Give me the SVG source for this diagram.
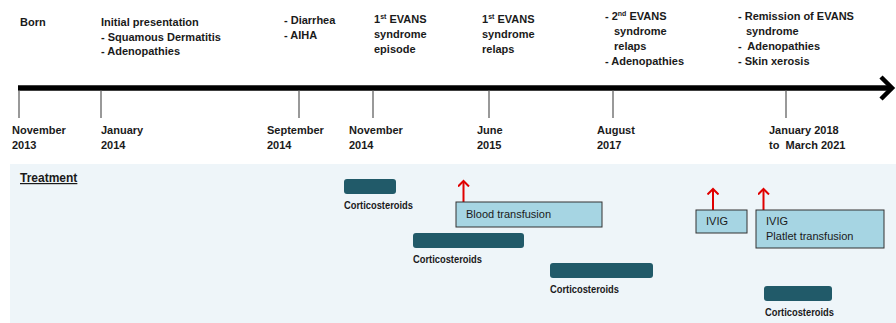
<svg xmlns="http://www.w3.org/2000/svg" width="896" height="323" viewBox="0 0 896 323">
<defs>
<style>
.t{font-family:"Liberation Sans",Arial,sans-serif;font-size:11px;font-weight:bold;fill:#1a1a1a;white-space:pre}
.r{font-family:"Liberation Sans",Arial,sans-serif;font-size:11px;fill:#1a1a1a}
.c{font-family:"Liberation Sans",Arial,sans-serif;font-size:10px;font-weight:bold;fill:#1a1a1a}
.sup{font-size:7px}
.tick{stroke:#555;stroke-width:1.2}
.bar{fill:#215A69}
.box{fill:#A6D5E3;stroke:#333;stroke-width:1}
.red{stroke:#E00000;stroke-width:2;fill:none}
</style>
<marker id="ra" markerWidth="12" markerHeight="12" refX="6" refY="6" orient="auto" markerUnits="userSpaceOnUse">
<path d="M0.5,0.5 L6,6 L0.5,11.5" fill="none" stroke="#E00000" stroke-width="2"/>
</marker>
</defs>
<rect width="896" height="323" fill="#ffffff"/>
<rect id="treatment-bg" x="10" y="164" width="886" height="159" fill="#EEF5F9"/>

<g id="connectors">
<line x1="18" y1="88" x2="890" y2="88" stroke="#000" stroke-width="5.5"/>
<polyline points="881,77 892,88 881,99" fill="none" stroke="#000" stroke-width="4.5"/>
<line class="tick" x1="19" y1="90" x2="19" y2="118"/>
<line class="tick" x1="101" y1="90" x2="101" y2="118"/>
<line class="tick" x1="299" y1="90" x2="299" y2="118"/>
<line class="tick" x1="373" y1="90" x2="373" y2="118"/>
<line class="tick" x1="489" y1="90" x2="489" y2="118"/>
<line class="tick" x1="613" y1="90" x2="613" y2="118"/>
<line class="tick" x1="786" y1="90" x2="786" y2="118"/>
<line class="red" x1="463.5" y1="202" x2="463.5" y2="181" marker-end="url(#ra)"/>
<line class="red" x1="713" y1="210" x2="713" y2="189" marker-end="url(#ra)"/>
<line class="red" x1="763.5" y1="210" x2="763.5" y2="189" marker-end="url(#ra)"/>
</g>

<g id="ev-born"><text class="t" x="20" y="26">Born</text></g>
<g id="ev-initial">
<text class="t" x="101" y="26">Initial presentation</text>
<text class="t" x="101" y="41">- Squamous Dermatitis</text>
<text class="t" x="101" y="55">- Adenopathies</text>
</g>
<g id="ev-diarrhea">
<text class="t" x="284" y="24">- Diarrhea</text>
<text class="t" x="284" y="39">- AIHA</text>
</g>
<g id="ev-evans1">
<text class="t" x="374" y="23">1<tspan class="sup" dy="-4">st</tspan><tspan dy="4"> EVANS</tspan></text>
<text class="t" x="374" y="38">syndrome</text>
<text class="t" x="374" y="53">episode</text>
</g>
<g id="ev-relaps1">
<text class="t" x="482" y="23">1<tspan class="sup" dy="-4">st</tspan><tspan dy="4"> EVANS</tspan></text>
<text class="t" x="482" y="38">syndrome</text>
<text class="t" x="482" y="53">relaps</text>
</g>
<g id="ev-relaps2">
<text class="t" x="605" y="20">- 2<tspan class="sup" dy="-4">nd</tspan><tspan dy="4"> EVANS</tspan></text>
<text class="t" x="614" y="35">syndrome</text>
<text class="t" x="614" y="50">relaps</text>
<text class="t" x="605" y="65">- Adenopathies</text>
</g>
<g id="ev-remission">
<text class="t" x="738" y="20">- Remission of EVANS</text>
<text class="t" x="746" y="35">syndrome</text>
<text class="t" x="738" y="50">-  Adenopathies</text>
<text class="t" x="738" y="65">- Skin xerosis</text>
</g>

<g id="date-nov2013"><text class="t" x="12" y="134">November</text><text class="t" x="12" y="149">2013</text></g>
<g id="date-jan2014"><text class="t" x="101" y="134">January</text><text class="t" x="101" y="149">2014</text></g>
<g id="date-sep2014"><text class="t" x="267" y="134">September</text><text class="t" x="267" y="149">2014</text></g>
<g id="date-nov2014"><text class="t" x="349" y="134">November</text><text class="t" x="349" y="149">2014</text></g>
<g id="date-jun2015"><text class="t" x="477" y="134">June</text><text class="t" x="477" y="149">2015</text></g>
<g id="date-aug2017"><text class="t" x="597" y="134">August</text><text class="t" x="597" y="149">2017</text></g>
<g id="date-2018"><text class="t" x="769" y="134">January 2018</text><text class="t" x="769" y="149">to  March 2021</text></g>

<g id="treatment-title">
<text class="t" x="20" y="182" style="font-size:12px;text-decoration:underline">Treatment</text>
</g>

<g id="cort1">
<rect class="bar" x="344" y="179" width="52" height="15" rx="3"/>
<text class="c" x="344" y="209" textLength="69" lengthAdjust="spacingAndGlyphs">Corticosteroids</text>
</g>
<g id="cort2">
<rect class="bar" x="413" y="233" width="111" height="15" rx="3"/>
<text class="c" x="413" y="263" textLength="69" lengthAdjust="spacingAndGlyphs">Corticosteroids</text>
</g>
<g id="cort3">
<rect class="bar" x="550" y="263" width="103" height="15" rx="3"/>
<text class="c" x="550" y="293" textLength="69" lengthAdjust="spacingAndGlyphs">Corticosteroids</text>
</g>
<g id="cort4">
<rect class="bar" x="764" y="286" width="68" height="15" rx="3"/>
<text class="c" x="765" y="316" textLength="69" lengthAdjust="spacingAndGlyphs">Corticosteroids</text>
</g>

<g id="blood">
<rect class="box" x="456" y="202" width="146" height="25"/>
<text class="r" x="466" y="218">Blood transfusion</text>
</g>
<g id="ivig1">
<rect class="box" x="696" y="210" width="51" height="23"/>
<text class="r" x="706" y="225">IVIG</text>
</g>
<g id="ivig2">
<rect class="box" x="756" y="210" width="128" height="38"/>
<text class="r" x="766" y="225">IVIG</text>
<text class="r" x="766" y="240">Platlet transfusion</text>
</g>
</svg>
